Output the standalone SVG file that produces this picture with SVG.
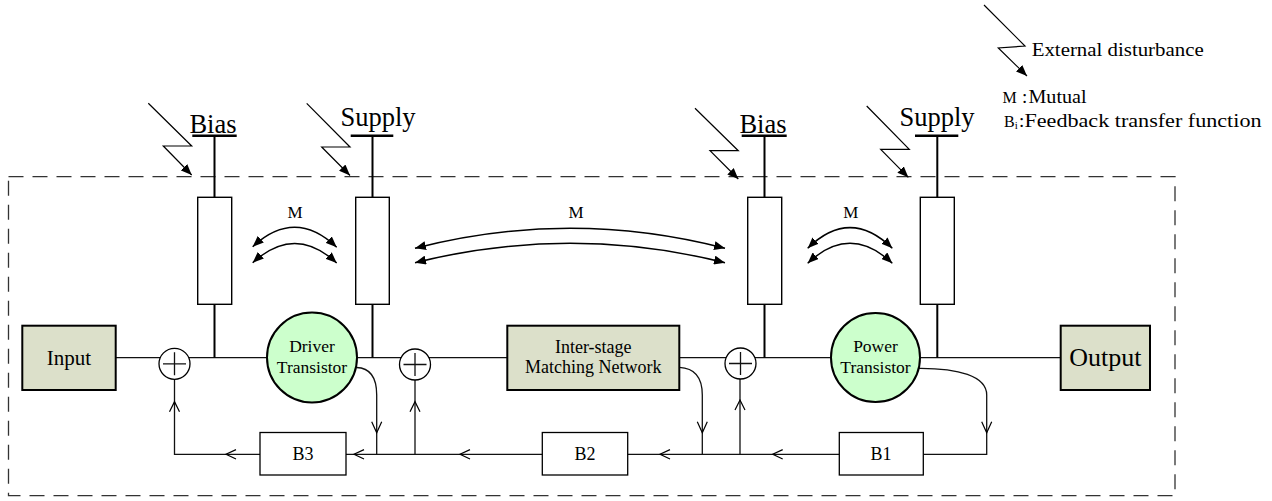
<svg xmlns="http://www.w3.org/2000/svg" width="1272" height="501" viewBox="0 0 1272 501" font-family="'Liberation Serif', 'DejaVu Serif', serif">
<style>
text{font-family:'Liberation Serif','DejaVu Serif',serif;fill:#000}
.ln{fill:none;stroke:#111;stroke-width:1.3}
.vt{fill:none;stroke:#000;stroke-width:2}
.bar{stroke:#000;stroke-width:2.5}
.res{fill:#fff;stroke:#000;stroke-width:1.4}
.blk{fill:#dce0ca;stroke:#000;stroke-width:2}
.tr{fill:#ccffcc;stroke:#000;stroke-width:2}
.sum{fill:#fff;stroke:#000;stroke-width:1.3}
.fb{fill:#fff;stroke:#000;stroke-width:1.3}
.oa{fill:none;stroke:#000;stroke-width:1.2}
.arc{fill:none;stroke:#000;stroke-width:1.5;marker-start:url(#ah);marker-end:url(#ah)}
.lt{fill:none;stroke:#000;stroke-width:1.2;marker-end:url(#ah)}
.border{fill:none;stroke:#333;stroke-width:1.3;stroke-dasharray:15 9}
.c{text-anchor:middle}
</style>
<defs>
<marker id="ah" markerUnits="userSpaceOnUse" markerWidth="12" markerHeight="9" refX="11" refY="4.5" orient="auto-start-reverse"><path d="M0,0 L11,4.5 L0,9 z" fill="#000"/></marker>
</defs>
<rect width="1272" height="501" fill="#fff"/>
<rect class="border" x="8.5" y="176.7" width="1166.5" height="319"/>

<g id="connectors">
<path class="ln" d="M115.7,357.7 H1060.7"/>
<path class="vt" d="M214.5,135.7 V357.7 M372.5,135.7 V357.7 M764.5,135.7 V357.7 M937.3,135.7 V357.7"/>
<path class="ln" d="M356.5,367.5 C371,368 376.7,378 376.7,395 V454.3"/>
<path class="ln" d="M679.3,367.3 C695,368 702.3,378 702.3,395 V454.3"/>
<path class="ln" d="M918.5,368.3 C958,368 986.7,376 986.7,395 V454.3 H923.3"/>
<path class="ln" d="M839.3,454.3 H174.5 V372"/>
<path class="ln" d="M415,454.3 V372 M740,454.3 V372"/>
<path class="oa" d="M236,449.6 L226,454.3 L236,459 M364,449.6 L354,454.3 L364,459 M470,449.6 L460,454.3 L470,459 M670,449.6 L660,454.3 L670,459 M782.7,449.6 L772.7,454.3 L782.7,459"/>
<path class="oa" d="M169.5,411.7 L174.5,401.7 L179.5,411.7 M410,411.7 L415,401.7 L420,411.7 M735,410 L740,400 L745,410"/>
<path class="oa" d="M371.7,421.7 L376.7,432.7 L381.7,421.7 M697.3,421.7 L702.3,432.7 L707.3,421.7 M981.7,421.7 L986.7,432.7 L991.7,421.7"/>
<path class="arc" d="M252.7,246.7 Q295,207.6 336.7,247.3"/>
<path class="arc" d="M252.7,262.7 Q295,224 336.7,263"/>
<path class="arc" d="M415,248.3 Q570,208.3 725,248.3"/>
<path class="arc" d="M415,262.7 Q570,223.9 725,262.7"/>
<path class="arc" d="M807.7,248.3 Q850,207 892.3,248.3"/>
<path class="arc" d="M807.7,263.3 Q850,223.3 892.3,263.3"/>
<path class="lt" d="M148.3,103.3 L191.7,146 H163.3 L191.7,175"/>
<path class="lt" d="M306.7,103.3 L350,147 H321.7 L350,175.5"/>
<path class="lt" d="M695,108.3 L738.3,150.7 H710 L738.3,179"/>
<path class="lt" d="M866.7,106 L909.3,149.3 H880.7 L908.3,177.3"/>
</g>

<g id="labels-m">
<text class="c" x="295" y="217.7" font-size="17">M</text>
<text class="c" x="576" y="217.7" font-size="17">M</text>
<text class="c" x="850.7" y="217.7" font-size="17">M</text>
</g>

<g id="bias1">
<text class="c" x="213" y="132.7" font-size="26.5">Bias</text>
<line class="bar" x1="192.3" y1="135.7" x2="236.7" y2="135.7"/>
<rect class="res" x="197.7" y="197.3" width="34" height="107"/>
</g>
<g id="supply1">
<text class="c" x="378" y="126" font-size="26.5">Supply</text>
<line class="bar" x1="350.7" y1="135.7" x2="393.3" y2="135.7"/>
<rect class="res" x="355.7" y="197.3" width="33.6" height="107"/>
</g>
<g id="bias2">
<text class="c" x="763" y="132.7" font-size="26.5">Bias</text>
<line class="bar" x1="741.7" y1="135.7" x2="786.7" y2="135.7"/>
<rect class="res" x="747.7" y="197.3" width="34" height="107"/>
</g>
<g id="supply2">
<text class="c" x="937" y="126" font-size="26.5">Supply</text>
<line class="bar" x1="915" y1="135.7" x2="958.3" y2="135.7"/>
<rect class="res" x="920.3" y="197.3" width="34" height="107"/>
</g>

<g id="input">
<rect class="blk" x="22.3" y="325.7" width="93.4" height="64.3"/>
<text class="c" x="69" y="364.5" font-size="21">Input</text>
</g>
<g id="sum1">
<circle class="sum" cx="174.5" cy="363.8" r="15.5"/>
<path class="ln" d="M163,363.8 H186 M174.5,352.3 V375.3"/>
</g>
<g id="driver">
<circle class="tr" cx="312" cy="357.5" r="45"/>
<text class="c" x="312" y="351.7" font-size="17.5">Driver</text>
<text class="c" x="312" y="373.3" font-size="17.5">Transistor</text>
</g>
<g id="sum2">
<circle class="sum" cx="415" cy="364.5" r="15.5"/>
<path class="ln" d="M403.5,364.5 H426.5 M415,353 V376"/>
</g>
<g id="interstage">
<rect class="blk" x="507.3" y="325.7" width="172" height="64.3"/>
<text class="c" x="593.3" y="352.7" font-size="18">Inter-stage</text>
<text class="c" x="593.3" y="373.3" font-size="18">Matching Network</text>
</g>
<g id="sum3">
<circle class="sum" cx="740.5" cy="363.5" r="15.5"/>
<path class="ln" d="M729,363.5 H752 M740.5,352 V375"/>
</g>
<g id="power">
<circle class="tr" cx="875.5" cy="357.5" r="44.5"/>
<text class="c" x="875.5" y="351.7" font-size="17.5">Power</text>
<text class="c" x="875.5" y="373.3" font-size="17.5">Transistor</text>
</g>
<g id="output">
<rect class="blk" x="1060.7" y="325.7" width="89.3" height="64.3"/>
<text class="c" x="1105.3" y="366" font-size="26">Output</text>
</g>
<g id="b3">
<rect class="fb" x="260" y="432.5" width="86" height="42.5"/>
<text class="c" x="303" y="460" font-size="18">B3</text>
</g>
<g id="b2">
<rect class="fb" x="542.3" y="432.5" width="85.4" height="42.5"/>
<text class="c" x="585" y="460" font-size="18">B2</text>
</g>
<g id="b1">
<rect class="fb" x="839.3" y="432.5" width="84" height="42.5"/>
<text class="c" x="881" y="460" font-size="18">B1</text>
</g>

<g id="legend">
<path class="lt" d="M984,5 L1025,46 L998.3,48 L1027,76"/>
<text x="1031.7" y="56" font-size="19" textLength="172" lengthAdjust="spacingAndGlyphs">External disturbance</text>
<text x="1002.5" y="103" font-size="16">M</text>
<text x="1022" y="103" font-size="19">:</text>
<text x="1028.5" y="103" font-size="19" textLength="58" lengthAdjust="spacingAndGlyphs">Mutual</text>
<text x="1004" y="127" font-size="16">B<tspan font-size="11" dy="2">i</tspan></text>
<text x="1019" y="127" font-size="19">:</text>
<text x="1024.5" y="127" font-size="19" textLength="237" lengthAdjust="spacingAndGlyphs">Feedback transfer function</text>
</g>
</svg>
